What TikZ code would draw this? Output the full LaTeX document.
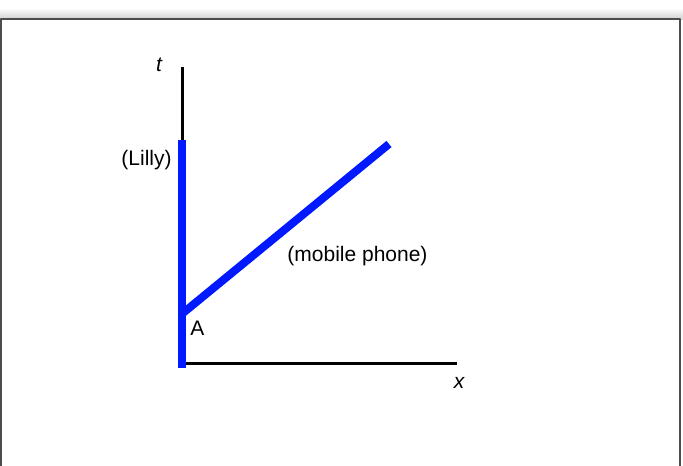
\documentclass[tikz,border=0pt]{standalone}
\usepackage{fontspec}
\setmainfont{Liberation Sans}
\begin{document}
\begin{tikzpicture}[x=1pt, y=-1pt, line join = round, font=\fontsize{21}{25}\selectfont]
			\tikzset{axis style/.style={black, line width=3pt},
				world style/.style={blue!90!cyan, line width=8pt}}
			\useasboundingbox (0,0) rectangle (683,466);
			% frame with a soft shadow above
			\shade[top color=white, bottom color=black!18] (0,8) rectangle (683,19);
			\fill[white] (1,19) rectangle (680,470);
			\draw[black!70, line width=1.5pt] (1,470) -- (1,19) -- (680,19) -- (680,470);
			\path (182.5,67) coordinate (T)
			(182.5,363.5) coordinate (O)
			(457,363.5) coordinate (X)
			(182,140) coordinate (L)
			(182,368) coordinate (L0)
			(183,313) coordinate (A)
			(389,144) coordinate (M)
			;
			\draw[axis style] (T)--(O)--(X);
			\draw[world style] (L0)--(L);
			\draw[world style] (A)--(M);
			%\draw[red] (A) circle (3pt);
			\node (tlab) at (159,65) {\itshape t};
			\node (xlab) at (459,383) {\itshape x};
			\node (alab) at (197.5,328.5) {A};
			\node (lilly) at (146.5,160) {(Lilly)};
			\node (phone) at (357.5,256) {(mobile phone)};
	\end{tikzpicture}
\end{document}
